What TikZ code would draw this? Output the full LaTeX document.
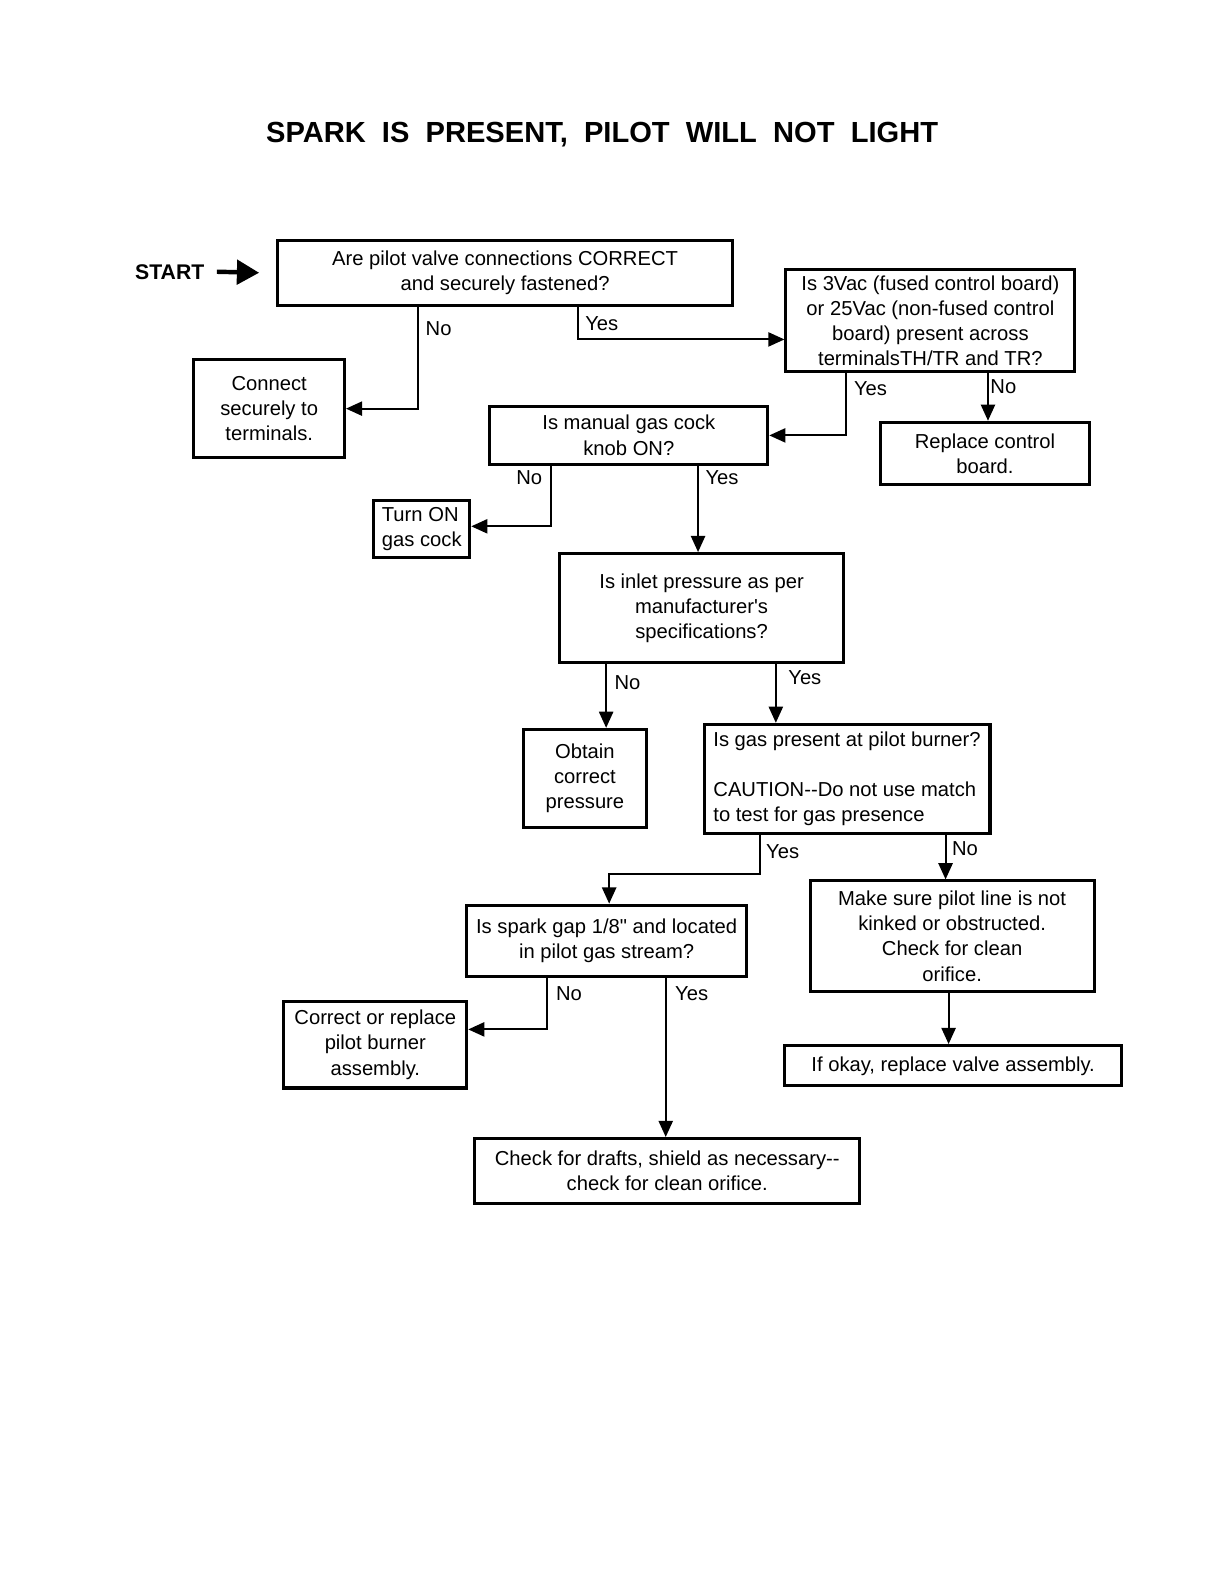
\documentclass[tikz,border=0pt]{standalone}
\usepackage{fontspec}
\setmainfont{Liberation Sans}[Ligatures=TeXOff]
\usetikzlibrary{arrows.meta}
\begin{document}
\begin{tikzpicture}[x=0.5pt,y=-0.5pt,
  box/.style={draw, line width=1.5pt, inner sep=0pt, align=center, font=\fontsize{10}{12.5}\selectfont},
  arr/.style={line width=1pt, -{Triangle[length=8pt,width=7pt]}},
  lab/.style={font=\fontsize{10}{12}\selectfont, inner sep=0pt},
  startarr/.style={line width=2.2pt, -{Triangle[length=11pt,width=12pt]}}]
\useasboundingbox (0,0) rectangle (1212,1568);
\node[font=\bfseries\fontsize{14.4}{18}\selectfont] (title) at (596,133) {SPARK\ \ IS\ \ PRESENT,\ \ PILOT\ \ WILL\ \ NOT\ \ LIGHT};
\node[font=\bfseries\fontsize{10.5}{12}\selectfont, inner sep=0pt] (start) at (168,269) {START};
\node[box, minimum width=225pt, minimum height=32pt] (q1) at (500,270) {Are pilot valve connections CORRECT\\and securely fastened?};
\node[box, minimum width=74.5pt, minimum height=48.5pt] (con) at (266.5,404.5) {Connect\\securely to\\terminals.};
\node[box, minimum width=143pt, minimum height=50.5pt] (q2) at (921,317.5) {Is 3Vac (fused control board)\\or 25Vac (non-fused control\\board) present across\\terminalsTH/TR and TR?};
\node[box, minimum width=103pt, minimum height=31pt] (rep) at (975,449) {Replace control\\board.};
\node[box, minimum width=137.5pt, minimum height=29pt] (q3) at (622.5,431) {Is manual gas cock\\knob ON?};
\node[box, minimum width=47.5pt, minimum height=28.5pt, align=left] (ton) at (417.5,523.5) {Turn ON\\gas cock};
\node[box, minimum width=140.5pt, minimum height=54pt] (q4) at (694.5,602) {Is inlet pressure as per\\manufacturer's\\specifications?};
\node[box, minimum width=61pt, minimum height=48.5pt] (obt) at (579,770.5) {Obtain\\correct\\pressure};
\node[box, minimum width=141.5pt, minimum height=54pt, align=left] (q5) at (838.5,771) {Is gas present at pilot burner?\\[12pt]CAUTION--Do not use match\\to test for gas presence};
\node[box, minimum width=138.5pt, minimum height=35.5pt] (q6) at (600.5,931.5) {Is spark gap 1/8" and located\\in pilot gas stream?};
\node[box, minimum width=140.5pt, minimum height=54.5pt] (mk) at (942.5,926.5) {Make sure pilot line is not\\kinked or obstructed.\\Check for clean\\orifice.};
\node[box, minimum width=166.5pt, minimum height=20pt] (ok) at (943.5,1055) {If okay, replace valve assembly.};
\node[box, minimum width=90.5pt, minimum height=43pt] (cor) at (371.5,1034) {Correct or replace\\pilot burner\\assembly.};
\node[box, minimum width=190.5pt, minimum height=32pt] (dr) at (660.5,1159) {Check for drafts, shield as necessary--\\check for clean orifice.};
% start arrow
\draw[startarr] ([xshift=6pt]start.east) -- ([xshift=-8.5pt]q1.west);
% Q1
\draw[arr] ([xshift=-43pt]q1.south) |- (con.east);
\draw[arr] ([xshift=36pt]q1.south) |- ([yshift=-9.25pt]q2.west);
\node[lab, anchor=west] (l1) at (421,325) {No};
\node[lab, anchor=west] (l2) at (579,320) {Yes};
% Q2
\draw[arr] ([xshift=-42pt]q2.south) |- (q3.east);
\draw[arr] ([xshift=28.5pt]q2.south) coordinate (a2) -- (a2 |- rep.north);
\node[lab, anchor=west] (l3) at (845,385) {Yes};
\node[lab, anchor=west] (l4) at (980,383) {No};
% Q3
\draw[arr] ([xshift=-38.75pt]q3.south) |- ([yshift=1.25pt]ton.east);
\draw[arr] ([xshift=34.25pt]q3.south) coordinate (a3) -- (a3 |- q4.north);
\node[lab, anchor=east] (l5) at (537,473) {No};
\node[lab, anchor=west] (l6) at (698,473) {Yes};
% Q4
\draw[arr] ([xshift=-47.25pt]q4.south) coordinate (a4) -- (a4 |- obt.north);
\draw[arr] ([xshift=36.75pt]q4.south) coordinate (b4) -- (b4 |- q5.north);
\node[lab, anchor=west] (l7) at (608,676) {No};
\node[lab, anchor=west] (l8) at (780,671) {Yes};
% Q5
\draw[arr] ([xshift=-43.25pt]q5.south) -- ++(0pt,-19.5pt) -| ([xshift=1.25pt]q6.north);
\draw[arr] ([xshift=48.75pt]q5.south) coordinate (b5) -- (b5 |- mk.north);
\node[lab, anchor=west] (l9) at (758,843) {Yes};
\node[lab, anchor=west] (l10) at (942,840) {No};
% Q6
\draw[arr] ([xshift=-29.75pt]q6.south) |- ([yshift=7.5pt]cor.east);
\draw[arr] ([xshift=29.25pt]q6.south) coordinate (b6) -- (b6 |- dr.north);
\node[lab, anchor=west] (l11) at (550,984) {No};
\node[lab, anchor=west] (l12) at (668,984) {Yes};
% make sure -> ok
\draw[arr] ([xshift=-1.75pt]mk.south) coordinate (c1) -- (c1 |- ok.north);
\end{tikzpicture}
\end{document}
